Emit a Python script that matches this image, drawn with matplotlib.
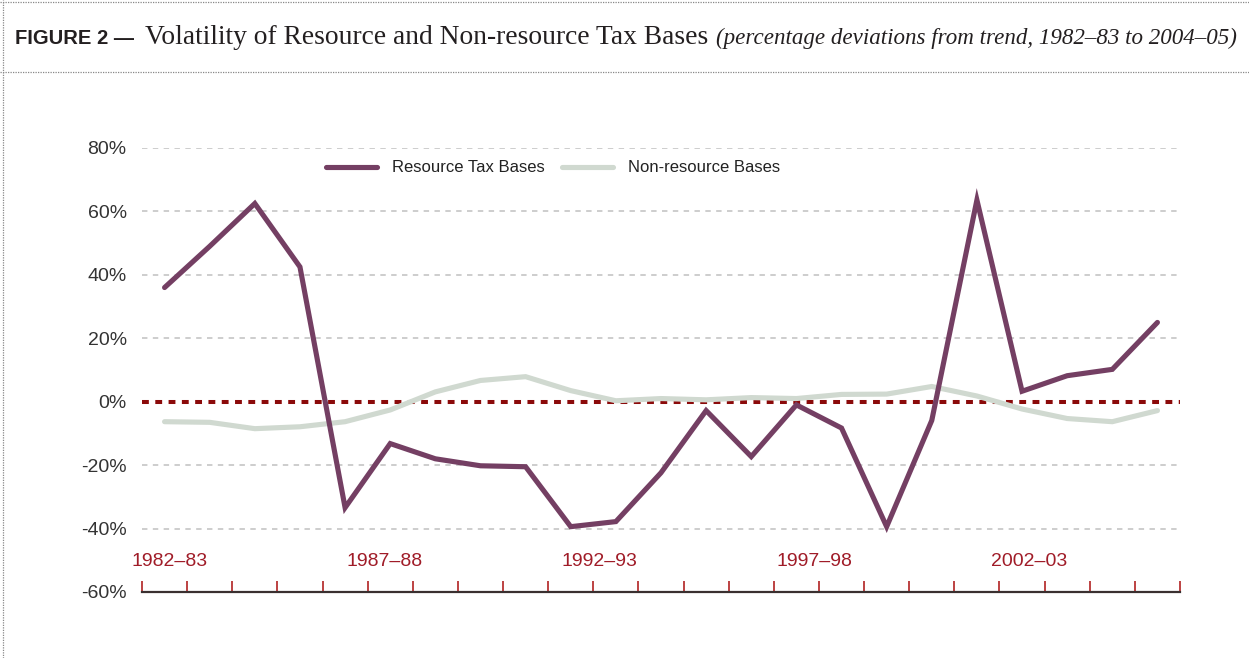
import numpy as np
import matplotlib
matplotlib.use("Agg")
import matplotlib.pyplot as plt
from matplotlib.lines import Line2D

# data (percentage deviations from trend)
years = ["1982-83", "1983-84", "1984-85", "1985-86", "1986-87", "1987-88", "1988-89",
         "1989-90", "1990-91", "1991-92", "1992-93", "1993-94", "1994-95", "1995-96",
         "1996-97", "1997-98", "1998-99", "1999-00", "2000-01", "2001-02", "2002-03",
         "2003-04", "2004-05"]
resource = [36, 49, 62.5, 42.5, -33.4, -13.2, -18, -20.2, -20.5, -39.4, -37.8, -22.4,
            -2.8, -17.3, -1, -8.3, -39.4, -5.9, 63.6, 3.3, 8.2, 10.2, 25]
non_resource = [-6.3, -6.5, -8.5, -7.9, -6.3, -2.6, 3.1, 6.7, 7.9, 3.5, 0.3, 1, 0.6,
                1.3, 1, 2.3, 2.4, 4.8, 1.8, -2.3, -5.3, -6.3, -2.8]
year_labels = ["1982\u201383", "1987\u201388", "1992\u201393", "1997\u201398", "2002\u201303"]
yticks = [-60, -40, -20, 0, 20, 40, 60, 80]

W, H = 1249, 658
fig = plt.figure(figsize=(W / 100, H / 100), dpi=100)

ax = fig.add_axes([142 / W, 66 / H, (1180 - 142) / W, (592 - 148) / H])
x = np.arange(len(years))

# gridlines
for v in yticks[1:]:
    if v != 0:
        ax.axhline(v, color="#c9c9c9", lw=1.3, ls=(0, (3, 3)), zorder=1)
# zero line
ax.axhline(0, color="#8b0a0a", lw=2.9, ls=(0, (1.7, 1.6)), zorder=2)

ax.plot(x, non_resource, color="#d0d9d0", lw=3.7, solid_capstyle="round",
        solid_joinstyle="miter", label="Non-resource Bases", zorder=3)
ax.plot(x, resource, color="#743f63", lw=3.7, solid_capstyle="round",
        solid_joinstyle="miter", label="Resource Tax Bases", zorder=4)

ax.set_xlim(-0.5, len(years) - 0.5)
ax.set_ylim(-60, 80)
ax.set_yticks(yticks)
ax.set_yticklabels([f"{v}%" for v in yticks], fontsize=14, color="#333333",
                   family="Liberation Sans")
ax.tick_params(axis="y", length=0, pad=11)

ax.set_xticks([])
ax.set_xticks(np.arange(len(years) + 1) - 0.5, minor=True)
ax.tick_params(axis="x", which="minor", direction="in", length=8, width=1.2,
               color="#b22222")
for s in ["top", "right", "left"]:
    ax.spines[s].set_visible(False)
ax.spines["bottom"].set_color("#3a3030")
ax.spines["bottom"].set_linewidth(1.6)

# year labels (as drawn in the original, slightly off the category centres)
for k, lab in enumerate(year_labels):
    ax.text(0.11 + k * 4.76, -50.4, lab, ha="center", va="center", fontsize=14,
            color="#a01c28", family="Liberation Sans")

# legend
h, l = ax.get_legend_handles_labels()
leg = fig.legend(h[::-1], l[::-1], loc="center", bbox_to_anchor=(553 / W, 1 - 168 / H),
                 ncol=2, frameon=False, handlelength=3.1, handletextpad=0.9,
                 columnspacing=1.0, prop={"family": "Liberation Sans", "size": 12})
for t in leg.get_texts():
    t.set_color("#222222")

# title
ty = 1 - 44 / H
fig.text(15 / W, ty, "FIGURE 2 \u2014", fontsize=14.5, fontweight="bold",
         family="Liberation Sans", color="#231f20", va="baseline")
fig.text(145 / W, ty, "Volatility of Resource and Non-resource Tax Bases", fontsize=19.8,
         family="Liberation Serif", color="#231f20", va="baseline")
fig.text(716 / W, ty, "(percentage deviations from trend, 1982\u201383 to 2004\u201305)",
         fontsize=16.6, family="Liberation Serif", style="italic", color="#231f20",
         va="baseline")

# dotted frame lines
dot = dict(color="#888888", lw=0.9, ls=(0, (1, 1)), transform=fig.transFigure)
fig.add_artist(Line2D([0, 1], [1 - 1.5 / H, 1 - 1.5 / H], **dot))
fig.add_artist(Line2D([0, 1], [1 - 72 / H, 1 - 72 / H], **dot))
fig.add_artist(Line2D([2.5 / W, 2.5 / W], [0, 1], **dot))

fig.savefig("out.png", dpi=100)
